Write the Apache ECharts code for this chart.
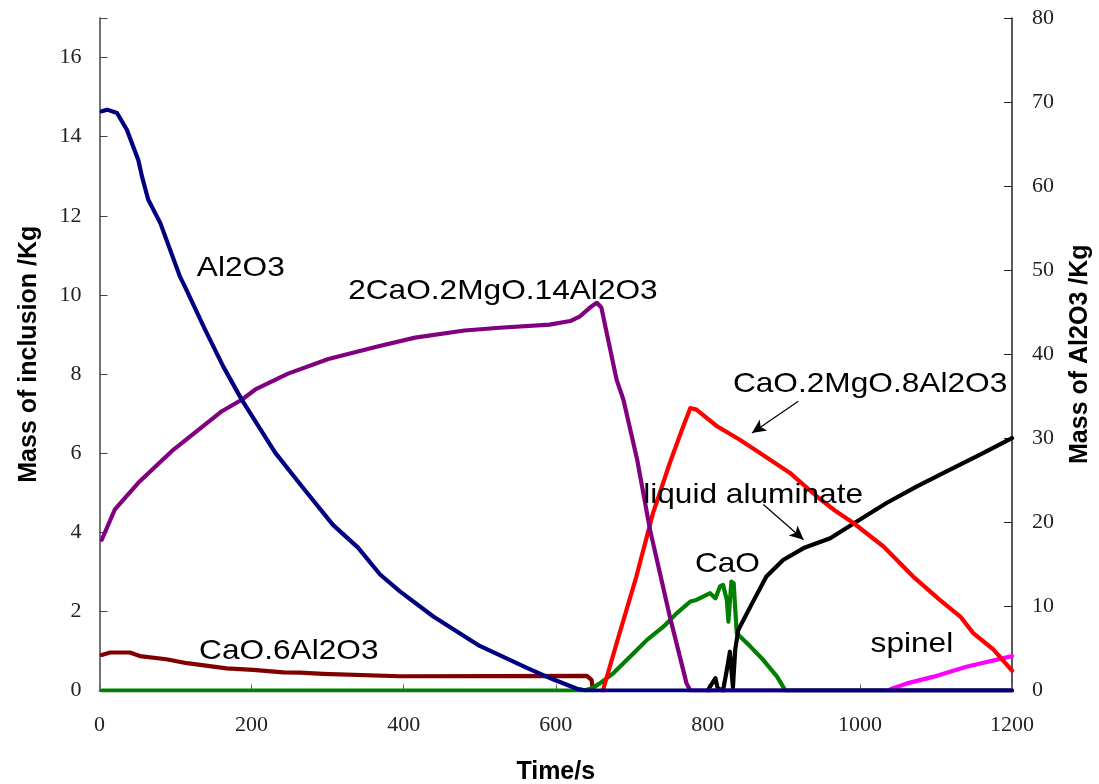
<!DOCTYPE html>
<html>
<head>
<meta charset="utf-8">
<script src="https://cdn.jsdelivr.net/npm/echarts@6/dist/echarts.min.js"></script>
<style>
  html, body { margin: 0; padding: 0; background: #fff; }
  #chart { width: 1099px; height: 784px; }
</style>
</head>
<body>
<div id="chart"></div>
<script>
// Time axis ticks (s)
const timeTicks = [0, 200, 400, 600, 800, 1000, 1200];

// Al2O3 (plotted against the right-hand axis, kg)
const al2o3Time = [3, 10, 23, 36, 51, 56, 64, 80, 106, 112, 139, 163, 187, 231, 266, 307, 340, 369, 395, 439, 500, 562, 597, 628, 640, 1200];
const al2o3Mass = [68.9, 69.1, 68.7, 66.7, 63.1, 61.1, 58.4, 55.6, 49.2, 48.1, 42.9, 38.5, 34.6, 28.3, 24.3, 19.7, 17.0, 13.8, 11.8, 8.8, 5.3, 2.7, 1.3, 0.2, 0, 0];

// 2CaO.2MgO.14Al2O3
const spinelRichTime = [3, 20, 51, 95, 161, 187, 205, 248, 301, 367, 415, 480, 526, 592, 619, 632, 645, 654, 660, 680, 689, 707, 724, 739, 750, 772, 777, 1200];
const spinelRichMass = [3.81, 4.57, 5.25, 6.05, 7.06, 7.35, 7.61, 8.01, 8.38, 8.70, 8.92, 9.10, 9.17, 9.25, 9.34, 9.46, 9.68, 9.80, 9.68, 7.86, 7.35, 5.84, 4.06, 2.80, 1.87, 0.18, 0, 0];

// CaO.2MgO.8Al2O3
const cma8Time = [662, 680, 706, 728, 750, 766, 777, 785, 812, 842, 869, 908, 943, 967, 991, 1031, 1070, 1105, 1132, 1149, 1176, 1200];
const cma8Mass = [0, 1.19, 2.88, 4.49, 5.75, 6.59, 7.14, 7.10, 6.68, 6.34, 6.00, 5.50, 4.91, 4.55, 4.24, 3.64, 2.88, 2.29, 1.87, 1.45, 1.03, 0.50];

// CaO.6Al2O3
const ca6Time = [3, 14, 40, 53, 88, 115, 167, 202, 242, 264, 294, 395, 641, 647, 649];
const ca6Mass = [0.90, 0.96, 0.96, 0.87, 0.79, 0.69, 0.56, 0.52, 0.46, 0.45, 0.42, 0.36, 0.37, 0.27, 0];

// CaO
const caoTime = [3, 638, 648, 658, 676, 707, 720, 742, 759, 777, 785, 803, 810, 816, 820, 825, 827, 831, 834, 838, 856, 873, 891, 902, 1200];
const caoMass = [0, 0, 0.06, 0.18, 0.44, 1.03, 1.28, 1.62, 1.95, 2.25, 2.29, 2.46, 2.33, 2.63, 2.67, 2.29, 1.74, 2.75, 2.71, 1.45, 1.11, 0.77, 0.35, 0, 0];

// Liquid aluminate
const liquidTime = [800, 803, 810, 813, 820, 825, 829, 833, 836, 840, 856, 877, 899, 926, 961, 996, 1035, 1075, 1114, 1158, 1200];
const liquidMass = [0, 0.10, 0.31, 0.05, 0, 0.52, 0.98, 0.08, 1.03, 1.53, 2.12, 2.88, 3.30, 3.60, 3.85, 4.27, 4.74, 5.16, 5.54, 5.96, 6.38];

// Spinel
const spinelTime = [1040, 1062, 1097, 1140, 1200];
const spinelMass = [0.03, 0.18, 0.35, 0.60, 0.87];

// Curve labels: [time, mass, text]
const curveLabels = [
  [128, 10.67, 'Al2O3'],
  [327, 10.09, '2CaO.2MgO.14Al2O3'],
  [833, 7.73, 'CaO.2MgO.8Al2O3'],
  [715, 4.93, 'liquid aluminate'],
  [783, 3.18, 'CaO'],
  [1014, 1.17, 'spinel'],
  [131, 0.98, 'CaO.6Al2O3']
];

// Pointer arrows: [fromTime, fromMass, toTime, toMass]
const pointerArrows = [
  [919, 7.31, 858, 6.51],
  [873, 4.70, 926, 3.81]
];

const pair = (xs, ys) => xs.map((x, i) => [x, ys[i]]);

const tickFont = { fontFamily: 'Liberation Serif', fontSize: 22, color: '#222' };
const nameFont = { fontFamily: 'Liberation Sans', fontSize: 25, fontWeight: 'bold', color: '#000' };

function lineSeries(name, data, color, yAxisIndex, extra) {
  return Object.assign({
    name: name,
    type: 'line',
    data: data,
    yAxisIndex: yAxisIndex,
    showSymbol: false,
    symbol: 'none',
    smooth: false,
    lineStyle: { color: color, width: 4.2, cap: 'round', join: 'round' },
    itemStyle: { color: color },
    silent: true
  }, extra || {});
}

const chart = echarts.init(document.getElementById('chart'), null, { renderer: 'canvas' });

chart.setOption({
  animation: false,
  backgroundColor: '#ffffff',
  grid: { left: 99.5, right: 87, top: 18, bottom: 93.5, containLabel: false, outerBoundsMode: 'none' },
  xAxis: [
    {
      type: 'value',
      min: timeTicks[0],
      max: timeTicks[timeTicks.length - 1],
      interval: 200,
      position: 'bottom',
      name: 'Time/s',
      nameLocation: 'middle',
      nameGap: 69,
      nameTextStyle: nameFont,
      axisLine: { show: true, onZero: false, lineStyle: { color: '#888', width: 1.5 } },
      axisTick: { show: true, inside: true, length: 6, lineStyle: { color: '#666' } },
      axisLabel: Object.assign({ margin: 24, formatter: v => String(v) }, tickFont),
      splitLine: { show: false }
    },
    {
      type: 'value',
      min: 0,
      max: 1200,
      position: 'top',
      axisLine: { show: true, lineStyle: { color: '#888', width: 2 } },
      axisTick: { show: false },
      axisLabel: { show: false },
      splitLine: { show: false }
    }
  ],
  yAxis: [
    {
      type: 'value',
      min: 0,
      max: 17,
      interval: 2,
      position: 'left',
      name: 'Mass of inclusion /Kg',
      nameLocation: 'middle',
      nameRotate: 90,
      nameGap: 58,
      nameTextStyle: nameFont,
      axisLine: { show: true, onZero: false, lineStyle: { color: '#444', width: 1.5 } },
      axisTick: { show: true, inside: true, length: 8, lineStyle: { color: '#444' } },
      axisLabel: Object.assign({ margin: 18, formatter: v => (v % 2 === 0 ? String(v) : '') }, tickFont),
      splitLine: { show: false }
    },
    {
      type: 'value',
      min: 0,
      max: 80,
      interval: 10,
      position: 'right',
      name: 'Mass of Al2O3 /Kg',
      nameLocation: 'middle',
      nameRotate: 90,
      nameGap: 56,
      nameTextStyle: nameFont,
      axisLine: { show: true, onZero: false, lineStyle: { color: '#222', width: 1.5 } },
      axisTick: { show: true, inside: true, length: 8, lineStyle: { color: '#222' } },
      axisLabel: Object.assign({ margin: 20, formatter: v => String(v) }, tickFont),
      splitLine: { show: false }
    }
  ],
  series: [
    lineSeries('CaO.6Al2O3', pair(ca6Time, ca6Mass), '#800000', 0),
    lineSeries('CaO', pair(caoTime, caoMass), '#008000', 0),
    lineSeries('spinel', pair(spinelTime, spinelMass), '#ff00ff', 0),
    lineSeries('liquid aluminate', pair(liquidTime, liquidMass), '#000000', 0),
    lineSeries('CaO.2MgO.8Al2O3', pair(cma8Time, cma8Mass), '#ff0000', 0, {
      markLine: {
        silent: true,
        animation: false,
        symbol: ['none', 'arrow'],
        symbolSize: [10, 14],
        label: { show: false },
        lineStyle: { color: '#000', width: 1.2, type: 'solid' },
        emphasis: { disabled: true },
        data: pointerArrows.map(a => [{ coord: [a[0], a[1]] }, { coord: [a[2], a[3]] }])
      }
    }),
    lineSeries('2CaO.2MgO.14Al2O3', pair(spinelRichTime, spinelRichMass), '#800080', 0),
    lineSeries('Al2O3', pair(al2o3Time, al2o3Mass), '#000080', 1)
  ]
});

// Curve name labels, anchored in data space on the inclusion axis
const labelGraphics = curveLabels.map(l => {
  const p = chart.convertToPixel({ xAxisIndex: 0, yAxisIndex: 0 }, [l[0], l[1]]);
  return {
    type: 'text',
    x: p[0],
    y: p[1],
    scaleX: 1.13,
    z: 100,
    silent: true,
    style: {
      text: l[2],
      fontFamily: 'Liberation Sans',
      fontSize: 28,
      fill: '#000',
      align: 'left',
      verticalAlign: 'middle'
    }
  };
});

chart.setOption({ graphic: labelGraphics });
</script>
</body>
</html>
